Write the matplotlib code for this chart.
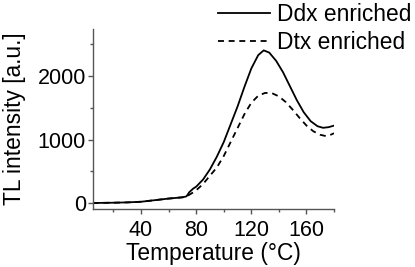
import matplotlib
matplotlib.use("Agg")
import matplotlib.pyplot as plt
from matplotlib.ticker import MultipleLocator

plt.rcParams['font.family'] = ['Liberation Sans', 'DejaVu Sans']

temp_ddx = [5, 10, 20, 30, 40, 50, 60, 70, 73, 75, 78, 80, 85, 90, 95, 100, 105, 110,
            115, 120, 125, 129, 133, 138, 143, 148, 153, 158, 163, 168, 172, 176, 180]
tl_ddx = [0, 2, 5, 10, 20, 45, 70, 90, 105, 170, 230, 257, 370, 530, 730, 960, 1240, 1520,
          1830, 2120, 2330, 2405, 2370, 2240, 2060, 1840, 1620, 1430, 1290, 1210, 1185, 1195, 1220]

temp_dtx = [5, 10, 20, 30, 40, 50, 60, 70, 73, 75, 78, 80, 85, 90, 95, 100, 105, 110,
            115, 120, 125, 130, 135, 140, 145, 150, 155, 160, 165, 170, 174, 177, 180]
tl_dtx = [0, 2, 5, 10, 20, 45, 70, 90, 100, 130, 170, 200, 300, 430, 560, 740, 960, 1180,
          1400, 1580, 1690, 1735, 1730, 1680, 1590, 1470, 1340, 1220, 1130, 1075, 1055, 1070, 1100]

labels = ["Ddx enriched", "Dtx enriched"]

fig = plt.figure(figsize=(4.15, 2.67), dpi=100)
ax = fig.add_axes([0.2234, 0.217, 0.805 - 0.2234, 0.891 - 0.217])

ax.plot(temp_ddx, tl_ddx, color='black', lw=1.3, ls='-', label=labels[0])
ax.plot(temp_dtx, tl_dtx, color='black', lw=1.3, ls=(0, (3.3, 2.6)), label=labels[1])

ax.set_xlim(5, 180)
ax.set_ylim(-95, 2740)
ax.xaxis.set_major_locator(MultipleLocator(40))
ax.xaxis.set_minor_locator(MultipleLocator(20))
ax.yaxis.set_major_locator(MultipleLocator(1000))
ax.yaxis.set_minor_locator(MultipleLocator(500))

for s in ['top', 'right']:
    ax.spines[s].set_visible(False)
for s in ['left', 'bottom']:
    ax.spines[s].set_color('#555555')
    ax.spines[s].set_linewidth(1.0)

ax.tick_params(which='major', direction='out', length=3.5, width=1, color='#555555',
               labelsize=15.5)
ax.tick_params(which='minor', direction='out', length=2, width=1, color='#555555')
ax.tick_params(axis='x', which='major', pad=4.5)
ax.tick_params(axis='y', which='major', pad=1.5)

ax.set_xlabel("Temperature (°C)", fontsize=16.4, labelpad=0.5)
ax.set_ylabel("TL intensity [a.u.]", fontsize=16.4, labelpad=8)

leg = ax.legend(loc='upper right', bbox_to_anchor=(1.0, 1.0), bbox_transform=fig.transFigure,
                frameon=False, fontsize=16.4, handlelength=2.3, handletextpad=0.3,
                labelspacing=0.2, borderaxespad=0.0, borderpad=0.15)

fig.savefig("out.png", dpi=100)
